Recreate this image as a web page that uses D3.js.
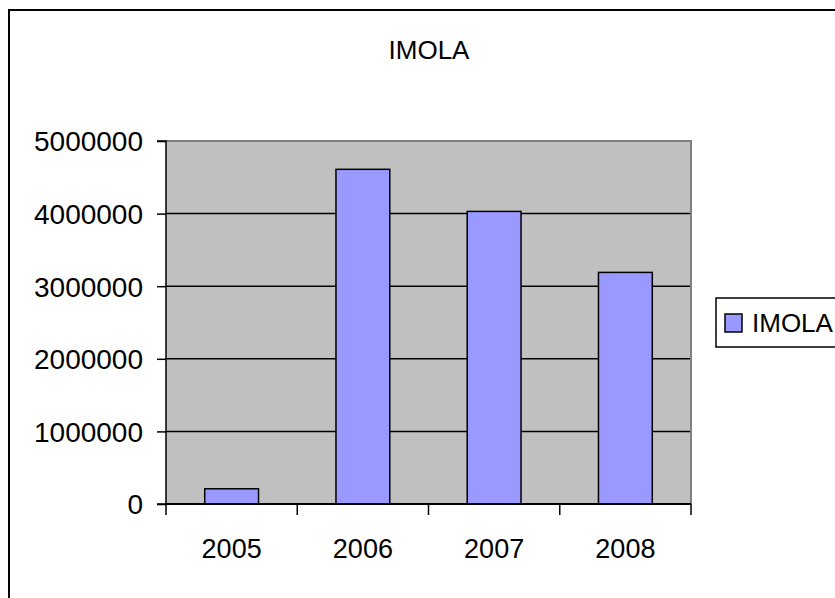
<!DOCTYPE html>
<html>
<head>
<meta charset="utf-8">
<script src="https://cdn.jsdelivr.net/npm/d3@7"></script>
<style>
  body { margin: 0; background: #fff; }
  svg text { font-family: "Liberation Sans", Arial, sans-serif; fill: #000; }
</style>
</head>
<body>
<div id="chart"></div>
<script>
// data
var years = ["2005", "2006", "2007", "2008"];
var imola = [210000, 4610000, 4030000, 3190000];
var yTicks = [0, 1000000, 2000000, 3000000, 4000000, 5000000];
var seriesName = "IMOLA";

var width = 835, height = 598;
var plot = { left: 166, top: 141, right: 691, bottom: 504 };

var svg = d3.select("#chart").append("svg")
    .attr("width", width)
    .attr("height", height);

// outer chart border (runs off the right and bottom edge)
svg.append("rect")
    .attr("x", 9).attr("y", 10)
    .attr("width", 900).attr("height", 700)
    .attr("fill", "#fff")
    .attr("stroke", "#000")
    .attr("stroke-width", 2);

var x = d3.scaleBand()
    .domain(years)
    .range([plot.left, plot.right])
    .paddingInner(0.59)
    .paddingOuter(0.295);

var y = d3.scaleLinear()
    .domain([0, 5000000])
    .range([plot.bottom, plot.top]);

// plot background
svg.append("rect")
    .attr("x", plot.left).attr("y", plot.top)
    .attr("width", plot.right - plot.left)
    .attr("height", plot.bottom - plot.top)
    .attr("fill", "#c0c0c0");

// gridlines
svg.append("g").selectAll("line")
    .data(yTicks.filter(function (d) { return d > 0 && d < 5000000; }))
    .enter().append("line")
    .attr("x1", plot.left).attr("x2", plot.right)
    .attr("y1", function (d) { return y(d); })
    .attr("y2", function (d) { return y(d); })
    .attr("stroke", "#000")
    .attr("stroke-width", 1.5);

// gray frame on top and right
svg.append("path")
    .attr("d", "M" + plot.left + "," + plot.top + "H" + plot.right + "V" + plot.bottom)
    .attr("fill", "none")
    .attr("stroke", "#808080")
    .attr("stroke-width", 2);

// bars
svg.append("g").selectAll("rect")
    .data(imola)
    .enter().append("rect")
    .attr("x", function (d, i) { return x(years[i]); })
    .attr("y", function (d) { return y(d); })
    .attr("width", x.bandwidth())
    .attr("height", function (d) { return y(0) - y(d); })
    .attr("fill", "#9999ff")
    .attr("stroke", "#000")
    .attr("stroke-width", 1.5);

// y axis
var yAxis = svg.append("g")
    .attr("transform", "translate(" + plot.left + ",0)")
    .call(d3.axisLeft(y).tickValues(yTicks).tickFormat(d3.format("d")).tickSize(9).tickPadding(14));
yAxis.selectAll("text").style("font-size", "28px").attr("dy", "0.35em");
yAxis.selectAll("line, path").attr("stroke", "#000").attr("stroke-width", 1.5);
yAxis.select(".domain").attr("d", "M-9," + plot.top + "H0V" + plot.bottom + "H-9");

// x axis: labels at band centres, ticks at band boundaries
var xAxis = svg.append("g")
    .attr("transform", "translate(0," + plot.bottom + ")")
    .call(d3.axisBottom(x).tickSize(0));
xAxis.select(".domain").attr("stroke", "#000").attr("stroke-width", 2)
    .attr("d", "M" + plot.left + ",0H" + plot.right);
xAxis.selectAll("text").style("font-size", "27px").attr("dy", null).attr("y", 54);
xAxis.selectAll(".bound")
    .data(d3.range(years.length + 1))
    .enter().append("line")
    .attr("class", "bound")
    .attr("x1", function (i) { return plot.left + i * x.step(); })
    .attr("x2", function (i) { return plot.left + i * x.step(); })
    .attr("y1", 0).attr("y2", 11)
    .attr("stroke", "#000")
    .attr("stroke-width", 1.5);

// title
svg.append("text")
    .attr("x", 429).attr("y", 59)
    .attr("text-anchor", "middle")
    .style("font-size", "26px")
    .text(seriesName);

// legend
var legend = svg.append("g");
legend.append("rect")
    .attr("x", 716).attr("y", 298)
    .attr("width", 140).attr("height", 49)
    .attr("fill", "#fff")
    .attr("stroke", "#000")
    .attr("stroke-width", 1.5);
legend.append("rect")
    .attr("x", 725).attr("y", 314)
    .attr("width", 17).attr("height", 18)
    .attr("fill", "#9999ff")
    .attr("stroke", "#000")
    .attr("stroke-width", 1.5);
legend.append("text")
    .attr("x", 752).attr("y", 332)
    .style("font-size", "26px")
    .text(seriesName);
</script>
</body>
</html>
